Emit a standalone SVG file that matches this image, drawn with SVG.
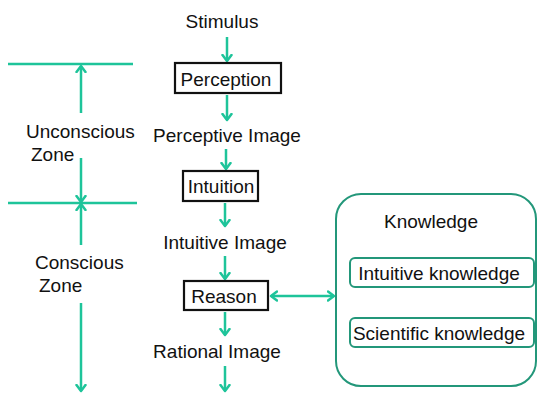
<svg xmlns="http://www.w3.org/2000/svg" width="538" height="393" viewBox="0 0 538 393">
<defs>
<style>
text{font-family:"Liberation Sans",Arial,sans-serif;font-size:19px;fill:#111}
.c{text-anchor:middle}
.ln{stroke:#1ec49a;stroke-width:2.5;fill:none}
.bx{fill:#fff;stroke:#111;stroke-width:2.2}
.kb{fill:#fff;stroke:#23977a;stroke-width:2}
</style>
<marker id="ah" markerUnits="userSpaceOnUse" markerWidth="14" markerHeight="14" viewBox="-7 -7 14 14" refX="0" refY="0" orient="auto-start-reverse">
<path d="M-6,-4.5 L0,0 L-6,4.5" fill="none" stroke="#1ec49a" stroke-width="2.5" stroke-linecap="round" stroke-linejoin="round"/>
</marker>
</defs>
<g id="connectors">
<line class="ln" x1="8" y1="64" x2="133" y2="64"/>
<line class="ln" x1="8" y1="203" x2="137" y2="203"/>
<line class="ln" x1="81" y1="113" x2="81" y2="66" marker-end="url(#ah)"/>
<line class="ln" x1="81" y1="158" x2="81" y2="202" marker-end="url(#ah)"/>
<line class="ln" x1="81" y1="245" x2="81" y2="204" marker-end="url(#ah)"/>
<line class="ln" x1="81" y1="303" x2="81" y2="391" marker-end="url(#ah)"/>
<line class="ln" x1="227" y1="37" x2="227" y2="61" marker-end="url(#ah)"/>
<line class="ln" x1="227" y1="95" x2="227" y2="120" marker-end="url(#ah)"/>
<line class="ln" x1="226" y1="149" x2="226" y2="169" marker-end="url(#ah)"/>
<line class="ln" x1="225" y1="203" x2="225" y2="226" marker-end="url(#ah)"/>
<line class="ln" x1="225" y1="256" x2="225" y2="279" marker-end="url(#ah)"/>
<line class="ln" x1="225" y1="312" x2="225" y2="335" marker-end="url(#ah)"/>
<line class="ln" x1="225" y1="366" x2="225" y2="391" marker-end="url(#ah)"/>
<line class="ln" x1="271" y1="296" x2="334" y2="296" marker-start="url(#ah)" marker-end="url(#ah)"/>
</g>
<g id="unconscious"><text x="26" y="138">Unconscious</text><text x="31" y="161">Zone</text></g>
<g id="conscious"><text x="35" y="269">Conscious</text><text x="39" y="292">Zone</text></g>
<g id="stimulus"><text class="c" x="222" y="28">Stimulus</text></g>
<g id="perception"><rect class="bx" x="175" y="63" width="106" height="30"/><text class="c" x="226" y="86">Perception</text></g>
<g id="perceptive-image"><text class="c" x="227" y="142">Perceptive Image</text></g>
<g id="intuition"><rect class="bx" x="183" y="171" width="75" height="30"/><text class="c" x="221" y="193">Intuition</text></g>
<g id="intuitive-image"><text class="c" x="225" y="249">Intuitive Image</text></g>
<g id="reason"><rect class="bx" x="184" y="281" width="84" height="29"/><text class="c" x="224" y="303">Reason</text></g>
<g id="rational-image"><text class="c" x="217" y="358">Rational Image</text></g>
<g id="knowledge">
<rect class="kb" x="336" y="194" width="200" height="192" rx="25"/>
<text class="c" x="431" y="228">Knowledge</text>
</g>
<g id="intuitive-knowledge"><rect class="kb" x="350" y="258" width="184" height="29" rx="5"/><text class="c" x="439" y="280">Intuitive knowledge</text></g>
<g id="scientific-knowledge"><rect class="kb" x="350" y="318" width="184" height="29" rx="5"/><text class="c" x="439" y="340">Scientific knowledge</text></g>
</svg>
